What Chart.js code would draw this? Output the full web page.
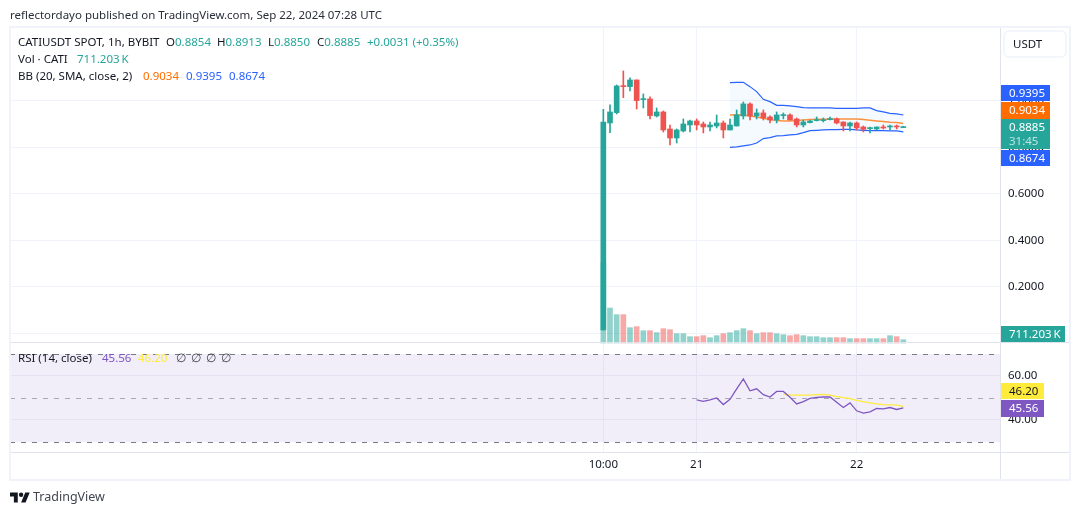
<!DOCTYPE html>
<html>
<head>
<meta charset="utf-8">
<script src="https://cdn.jsdelivr.net/npm/chart.js@4/dist/chart.umd.min.js"></script>
<style>
  html, body { margin: 0; padding: 0; background: #fff; width: 1080px; height: 515px; overflow: hidden; }
  body { position: relative; font-family: "Noto Sans", sans-serif; font-size: 11.5px; color: #131722; }
  #chart { position: absolute; left: 0; top: 0; }
  .row { position: absolute; white-space: nowrap; line-height: 16px; }
  .row span { position: absolute; top: 0; }
  .up { color: #26a69a; }
  .brand { position: absolute; left: 33px; top: 488px; font-size: 12.5px; line-height: 18px; color: #434651; }
  svg { position: absolute; left: 10px; top: 490px; }
</style>
</head>
<body>
<canvas id="chart" width="1080" height="515"></canvas>
<div class="row" style="left:10px;top:7px;color:#2a2e39">reflectordayo published on TradingView.com, Sep 22, 2024 07:28 UTC</div>
<div class="row" style="left:18px;top:34px">
  <span>CATIUSDT&nbsp;SPOT,&nbsp;1h,&nbsp;BYBIT</span>
  <span style="left:148px">O<i class="up" style="font-style:normal">0.8854</i></span>
  <span style="left:199px">H<i class="up" style="font-style:normal">0.8913</i></span>
  <span style="left:250px">L<i class="up" style="font-style:normal">0.8850</i></span>
  <span style="left:299px">C<i class="up" style="font-style:normal">0.8885</i></span>
  <span class="up" style="left:349px">+0.0031&nbsp;(+0.35%)</span>
</div>
<div class="row" style="left:18px;top:51px">
  <span>Vol&nbsp;·&nbsp;CATI</span>
  <span class="up" style="left:59px">711.203&#8201;K</span>
</div>
<div class="row" style="left:18px;top:68px">
  <span>BB&nbsp;(20,&nbsp;SMA,&nbsp;close,&nbsp;2)</span>
  <span style="left:125px;color:#ff6d00">0.9034</span>
  <span style="left:168px;color:#2962ff">0.9395</span>
  <span style="left:211px;color:#2962ff">0.8674</span>
</div>
<div class="row" style="left:18px;top:350px">
  <span>RSI&nbsp;(14,&nbsp;close)</span>
  <span style="left:84px;color:#7e57c2">45.56</span>
  <span style="left:120px;color:#ffeb3b">46.20</span>
  <span style="left:158px;color:#434651">∅</span>
  <span style="left:173px;color:#434651">∅</span>
  <span style="left:188px;color:#434651">∅</span>
  <span style="left:203px;color:#434651">∅</span>
</div>
<svg width="20" height="15" viewBox="0 2 36 22"><path fill="#131722" d="M14 22H7V11H0V4h14v18zM28 22h-8l7.5-18h8L28 22z"/><circle fill="#131722" cx="20" cy="8" r="4"/></svg>
<div class="brand">TradingView</div>

<script>
// CATI/USDT hourly candles, first bar is 10:00 on the 20th
const opens  = [0.0151,0.9053,0.9498,1.0645,1.0616,1.0903,1.0057,1.0086,0.9354,0.9526,0.8795,0.8408,0.8709,0.8967,0.9139,0.9010,0.8881,0.8924,0.9053,0.8752,0.8924,0.9354,0.9871,0.9355,0.9484,0.9311,0.9182,0.9369,0.9398,0.9225,0.8967,0.9068,0.9154,0.9154,0.9197,0.9225,0.9096,0.8924,0.9053,0.8881,0.8810,0.8795,0.8881,0.8881,0.8924,0.8854];
const highs  = [0.9641,0.9828,1.0688,1.1290,1.0989,1.0903,1.0301,1.0172,0.9699,0.9569,0.8967,0.8795,0.9225,0.9182,0.9225,0.9096,0.9096,0.9397,0.9139,0.9225,0.9612,0.9957,0.9914,0.9656,0.9613,0.9355,0.9527,0.9484,0.9441,0.9268,0.9182,0.9182,0.9311,0.9268,0.9311,0.9268,0.9096,0.9096,0.9096,0.8924,0.8881,0.8881,0.8967,0.8967,0.8967,0.8913];
const lows   = [0.0151,0.8638,0.9440,1.0143,1.0430,0.9655,0.9699,0.9225,0.9311,0.8666,0.8107,0.8193,0.8666,0.8666,0.8752,0.8623,0.8709,0.8838,0.8408,0.8752,0.8924,0.9225,0.9182,0.9225,0.9182,0.9053,0.9053,0.9225,0.9182,0.8881,0.8881,0.9053,0.9139,0.9096,0.9182,0.9010,0.8709,0.8709,0.8752,0.8666,0.8623,0.8752,0.8795,0.8752,0.8795,0.8850];
const closes = [0.9096,0.9526,1.0645,1.0616,1.0903,1.0014,1.0086,0.9369,0.9526,0.8752,0.8408,0.8752,0.9010,0.9139,0.8967,0.8881,0.8967,0.9053,0.8752,0.8967,0.9397,0.9871,0.9354,0.9484,0.9268,0.9182,0.9398,0.9398,0.9182,0.8967,0.9096,0.9139,0.9197,0.9197,0.9225,0.9053,0.8924,0.9053,0.8838,0.8781,0.8838,0.8881,0.8838,0.8924,0.8881,0.8885];
// traded volume per bar, thousands of CATI
const volumes = [17135,7466,6044,6044,3271,3484,2631,2631,2204,3057,2844,1991,1991,1351,1351,1564,1138,1564,1991,2204,2631,3057,2631,1991,2204,2204,1991,1778,1564,1778,1564,1351,1351,1138,1138,1138,1138,924,924,924,924,924,924,1564,1351,711.203];

// Bollinger bands (20, SMA, close, 2), defined from bar 19 onward
const bbStart = 19;
const bbBasis = [0.9397,0.9411,0.9397,0.9355,0.9311,0.9254,0.9197,0.9154,0.9139,0.9139,0.9154,0.9182,0.9197,0.9211,0.9211,0.9225,0.9225,0.9225,0.9225,0.9225,0.9197,0.9168,0.9139,0.9111,0.9082,0.9068,0.9034];
const bbUpper = [1.0788,1.0802,1.0802,1.0616,1.0401,1.0071,0.9971,0.9813,0.9813,0.9785,0.9756,0.9713,0.9699,0.9699,0.9699,0.9699,0.9684,0.9684,0.9684,0.9684,0.9699,0.9699,0.9584,0.9527,0.9469,0.9441,0.9395];
const bbLower = [0.8007,0.8021,0.8064,0.8107,0.8193,0.8380,0.8423,0.8494,0.8509,0.8537,0.8566,0.8638,0.8724,0.8738,0.8752,0.8767,0.8767,0.8781,0.8781,0.8752,0.8738,0.8724,0.8724,0.8724,0.8709,0.8709,0.8674];

// RSI (14) and its moving average
const rsiStart = 14;
const rsiValues = [49.10,48.51,49.10,50.00,47.01,49.40,54.18,58.66,53.28,54.18,51.49,50.45,52.99,52.99,50.30,47.31,48.36,49.85,50.30,50.45,50.45,48.06,45.67,47.76,44.18,43.13,43.73,45.22,45.07,45.67,44.78,45.56];
const rsiMaStart = 27;
const rsiMa = [51.64,51.34,51.34,51.34,51.34,51.49,51.64,51.34,50.60,50.15,49.70,48.96,48.36,47.76,47.31,47.01,46.87,46.72,46.20];

const priceTicks = [0, 0.2, 0.4, 0.6, 0.8, 1.0];
const rsiTicks = [40, 60];
const rsiLevels = [70, 50, 30];
const timeTicks = { 0: '10:00', 14: '21', 38: '22' };

const UP = '#26a69a', DOWN = '#ef5350';
const UP_VOL = 'rgba(38,166,154,0.5)', DOWN_VOL = 'rgba(239,83,80,0.5)';
const FONT = '"Noto Sans", sans-serif';
const isUp = i => closes[i] >= opens[i];
const series = (arr, start) => arr.map((y, i) => ({ x: i + start, y }));

const paneFurniture = {
  id: 'paneFurniture',
  beforeDatasetsDraw(chart) {
    const { ctx, chartArea: a, scales } = chart;
    const r = scales.rsi;
    ctx.save();
    ctx.fillStyle = 'rgba(126,87,194,0.1)';
    ctx.fillRect(a.left, r.getPixelForValue(70), a.width, r.getPixelForValue(30) - r.getPixelForValue(70));
    ctx.setLineDash([5, 6]);
    rsiLevels.forEach(level => {
      ctx.strokeStyle = level === 50 ? 'rgba(120,123,134,0.6)' : '#787b86';
      ctx.beginPath();
      const y = Math.round(r.getPixelForValue(level)) + 0.5;
      ctx.moveTo(a.left, y); ctx.lineTo(a.right, y); ctx.stroke();
    });
    ctx.restore();
  },
  afterDraw(chart) {
    const { ctx, chartArea: a } = chart;
    ctx.save();
    // frame and pane separators
    ctx.strokeStyle = '#e0e3eb';
    ctx.lineWidth = 1;
    [[a.left, 342.5, 1070, 342.5], [a.left, 452.5, 1070, 452.5], [1000.5, 27, 1000.5, 480]].forEach(([x1, y1, x2, y2]) => {
      ctx.beginPath(); ctx.moveTo(x1, y1); ctx.lineTo(x2, y2); ctx.stroke();
    });
    ctx.strokeStyle = '#f0f3fa';
    ctx.lineWidth = 2;
    ctx.strokeRect(10, 27, 1060, 453);

    // scale selector
    ctx.lineWidth = 1.5;
    ctx.beginPath(); ctx.roundRect(1004, 31, 62, 26, 5); ctx.stroke();
    ctx.fillStyle = '#131722';
    ctx.font = '11.5px ' + FONT;
    ctx.textBaseline = 'middle';
    ctx.fillText('USDT', 1013, 44.5);

    // last-value badges on the axes
    const badge = (x, y, w, h, bg, fg, text) => {
      ctx.fillStyle = bg;
      ctx.fillRect(x, y, w, h);
      ctx.fillStyle = fg;
      ctx.fillText(text, 1009, y + h / 2 + 0.5);
    };
    badge(1001, 85, 49, 16, '#2962ff', '#fff', '0.9395');
    badge(1001, 102, 49, 17, '#ff6d00', '#fff', '0.9034');
    ctx.fillStyle = UP;
    ctx.fillRect(1001, 119, 49, 30);
    ctx.fillStyle = '#fff';
    ctx.fillText('0.8885', 1009, 128);
    ctx.fillStyle = 'rgba(255,255,255,0.7)';
    ctx.fillText('31:45', 1009, 142);
    badge(1001, 150, 49, 16, '#2962ff', '#fff', '0.8674');
    badge(1001, 326, 64, 16, UP, '#fff', '711.203\u2009K');
    badge(1001, 383, 43, 16, '#ffeb3b', '#131722', '46.20');
    badge(1001, 400, 43, 17, '#7e57c2', '#fff', '45.56');
    ctx.restore();
  }
};

const idx = opens.map((_, i) => i);
new Chart(document.getElementById('chart'), {
  data: {
    datasets: [
      { type: 'bar', label: 'Volume', xAxisID: 'x', yAxisID: 'vol', grouped: false, order: 9, barThickness: 5,
        data: series(volumes, 0), backgroundColor: idx.map(i => isUp(i) ? UP_VOL : DOWN_VOL) },
      { type: 'line', label: 'BB upper', xAxisID: 'x', yAxisID: 'price', order: 5, data: series(bbUpper, bbStart),
        borderColor: '#2962ff', borderWidth: 1.2, pointRadius: 0, tension: 0, fill: '+1', backgroundColor: 'rgba(33,150,243,0.05)' },
      { type: 'line', label: 'BB lower', xAxisID: 'x', yAxisID: 'price', order: 5, data: series(bbLower, bbStart),
        borderColor: '#2962ff', borderWidth: 1.2, pointRadius: 0, tension: 0 },
      { type: 'line', label: 'BB basis', xAxisID: 'x', yAxisID: 'price', order: 4, data: series(bbBasis, bbStart),
        borderColor: 'rgba(255,109,0,0.75)', borderWidth: 1.5, pointRadius: 0, tension: 0 },
      { type: 'bar', label: 'Wicks', xAxisID: 'x', yAxisID: 'price', grouped: false, order: 2, barThickness: 1,
        data: idx.map(i => ({ x: i, y: [lows[i], highs[i]] })), backgroundColor: idx.map(i => isUp(i) ? UP : DOWN) },
      { type: 'bar', label: 'Bodies', xAxisID: 'x', yAxisID: 'price', grouped: false, order: 1, barThickness: 5, minBarLength: 1,
        data: idx.map(i => ({ x: i, y: [opens[i], closes[i]] })), backgroundColor: idx.map(i => isUp(i) ? UP : DOWN) },
      { type: 'line', label: 'RSI MA', xAxisID: 'x', yAxisID: 'rsi', order: 1, data: series(rsiMa, rsiMaStart),
        borderColor: '#ffeb3b', borderWidth: 1.3, pointRadius: 0, tension: 0 },
      { type: 'line', label: 'RSI', xAxisID: 'x', yAxisID: 'rsi', order: 0, data: series(rsiValues, rsiStart),
        borderColor: '#7e57c2', borderWidth: 1.3, pointRadius: 0, tension: 0 }
    ]
  },
  options: {
    responsive: false,
    animation: false,
    parsing: { xAxisKey: 'x', yAxisKey: 'y' },
    layout: { padding: { left: 10, top: 27, right: 10, bottom: 35 } },
    plugins: { legend: { display: false }, tooltip: { enabled: false } },
    scales: {
      x: {
        type: 'linear', min: -89, max: 59.5, offset: false,
        afterBuildTicks: s => { s.ticks = Object.keys(timeTicks).map(v => ({ value: +v })); },
        afterFit: s => { s.height = 28; },
        grid: { color: '#f0f3fa', drawTicks: false, offset: false },
        border: { display: false },
        ticks: { autoSkip: false, maxRotation: 0, padding: 6, color: '#131722', font: { family: FONT, size: 11.5 },
                 callback: v => timeTicks[v] }
      },
      price: {
        type: 'linear', position: 'right', stack: 'panes', stackWeight: 316, weight: 1,
        min: -0.0409, max: 1.318,
        afterBuildTicks: s => { s.ticks = priceTicks.map(value => ({ value })); },
        afterFit: s => { s.width = 70; },
        grid: { color: '#f0f3fa', drawTicks: false },
        border: { display: false },
        ticks: { padding: 8, color: '#131722', font: { family: FONT, size: 11.5 }, callback: v => v.toFixed(4) }
      },
      rsi: {
        type: 'linear', position: 'right', stack: 'panes', stackWeight: 109, weight: 2,
        min: 25.45, max: 75,
        afterBuildTicks: s => { s.ticks = rsiTicks.map(value => ({ value })); },
        afterFit: s => { s.width = 70; },
        grid: { color: '#f0f3fa', drawTicks: false },
        border: { display: false },
        ticks: { padding: 8, color: '#131722', font: { family: FONT, size: 11.5 }, callback: v => v.toFixed(2) }
      },
      vol: { type: 'linear', position: 'left', display: false, min: -23250, max: 67403 }
    }
  },
  plugins: [paneFurniture]
});
</script>
</body>
</html>
